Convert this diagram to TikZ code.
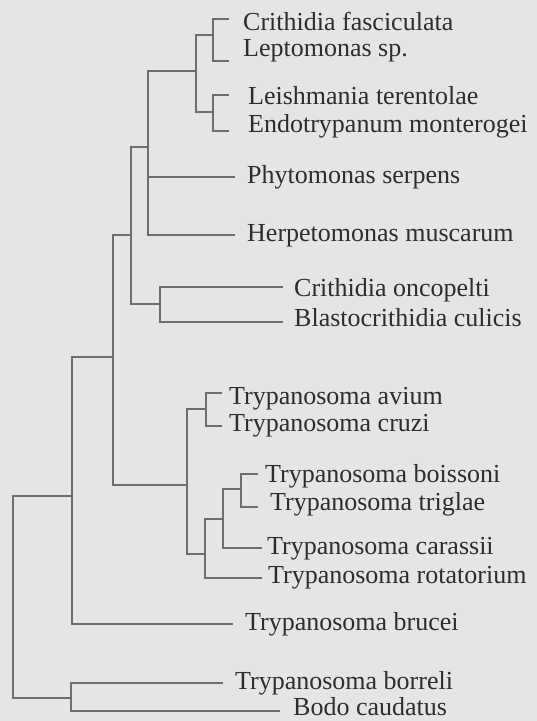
\documentclass[tikz,border=0pt]{standalone}
\usepackage{fontspec}
\setmainfont{Liberation Serif}
\definecolor{bgc}{RGB}{229,229,229}
\definecolor{lnc}{RGB}{110,110,110}
\definecolor{txc}{RGB}{45,45,45}
\begin{document}
\begin{tikzpicture}[x=1pt,y=-1pt,
  branch/.style={draw=lnc,line width=1.1pt,line join=miter},
  leaf/.style={anchor=base west,inner sep=0pt,text=txc,font=\fontsize{26}{30}\selectfont}]
\fill[bgc] (0,0) rectangle (537,721);
\useasboundingbox (0,0) rectangle (537,721);
% internal nodes
\coordinate (R) at (13,596);
\coordinate (A) at (72,496);
\coordinate (B) at (71,698);
\coordinate (C) at (113,357);
\coordinate (D) at (131,235);
\coordinate (E) at (148,147);
\coordinate (F) at (160,304);
\coordinate (G) at (196,71);
\coordinate (H) at (213,35);
\coordinate (I) at (213,112);
\coordinate (T) at (187,485);
\coordinate (U) at (206,409);
\coordinate (V) at (205,554);
\coordinate (W) at (223,519);
\coordinate (X) at (241,489);
% tips
\coordinate (tCF) at (229,19);
\coordinate (tLS) at (229,61);
\coordinate (tLT) at (229,95);
\coordinate (tEM) at (229,131);
\coordinate (tPS) at (235,177);
\coordinate (tHM) at (235,235);
\coordinate (tCO) at (283,287);
\coordinate (tBC) at (283,322);
\coordinate (tAV) at (222,393);
\coordinate (tCR) at (222,426);
\coordinate (tBO) at (258,474);
\coordinate (tTR) at (258,507);
\coordinate (tCA) at (262,548);
\coordinate (tRO) at (262,578);
\coordinate (tBR) at (233,624);
\coordinate (tBL) at (223,683);
\coordinate (tBD) at (280,711);
% labels
\node[leaf] (lCF) at (243,30) {Crithidia fasciculata};
\node[leaf] (lLS) at (243,56) {Leptomonas sp.};
\node[leaf] (lLT) at (248,104) {Leishmania terentolae};
\node[leaf] (lEM) at (248,132) {Endotrypanum monterogei};
\node[leaf] (lPS) at (247,183) {Phytomonas serpens};
\node[leaf] (lHM) at (247,241) {Herpetomonas muscarum};
\node[leaf] (lCO) at (294,296) {Crithidia oncopelti};
\node[leaf] (lBC) at (294,326) {Blastocrithidia culicis};
\node[leaf] (lAV) at (229,404) {Trypanosoma avium};
\node[leaf] (lCR) at (229,431) {Trypanosoma cruzi};
\node[leaf] (lBO) at (265,482) {Trypanosoma boissoni};
\node[leaf] (lTR) at (270,510) {Trypanosoma triglae};
\node[leaf] (lCA) at (267,554) {Trypanosoma carassii};
\node[leaf] (lRO) at (268,583) {Trypanosoma rotatorium};
\node[leaf] (lBR) at (245,630) {Trypanosoma brucei};
\node[leaf] (lBL) at (235,689) {Trypanosoma borreli};
\node[leaf] (lBD) at (293,715) {Bodo caudatus};
% branches
\draw[branch] (R) |- (A);
\draw[branch] (R) |- (B);
\draw[branch] (A) |- (C);
\draw[branch] (A) |- (tBR);
\draw[branch] (C) |- (D);
\draw[branch] (C) |- (T);
\draw[branch] (D) |- (E);
\draw[branch] (D) |- (F);
\draw[branch] (E) |- (G);
\draw[branch] (E) |- (tPS);
\draw[branch] (E) |- (tHM);
\draw[branch] (G) |- (H);
\draw[branch] (G) |- (I);
\draw[branch] (H) |- (tCF);
\draw[branch] (H) |- (tLS);
\draw[branch] (I) |- (tLT);
\draw[branch] (I) |- (tEM);
\draw[branch] (F) |- (tCO);
\draw[branch] (F) |- (tBC);
\draw[branch] (T) |- (U);
\draw[branch] (T) |- (V);
\draw[branch] (U) |- (tAV);
\draw[branch] (U) |- (tCR);
\draw[branch] (V) |- (W);
\draw[branch] (V) |- (tRO);
\draw[branch] (W) |- (X);
\draw[branch] (W) |- (tCA);
\draw[branch] (X) |- (tBO);
\draw[branch] (X) |- (tTR);
\draw[branch] (B) |- (tBL);
\draw[branch] (B) |- (tBD);
\end{tikzpicture}
\end{document}
